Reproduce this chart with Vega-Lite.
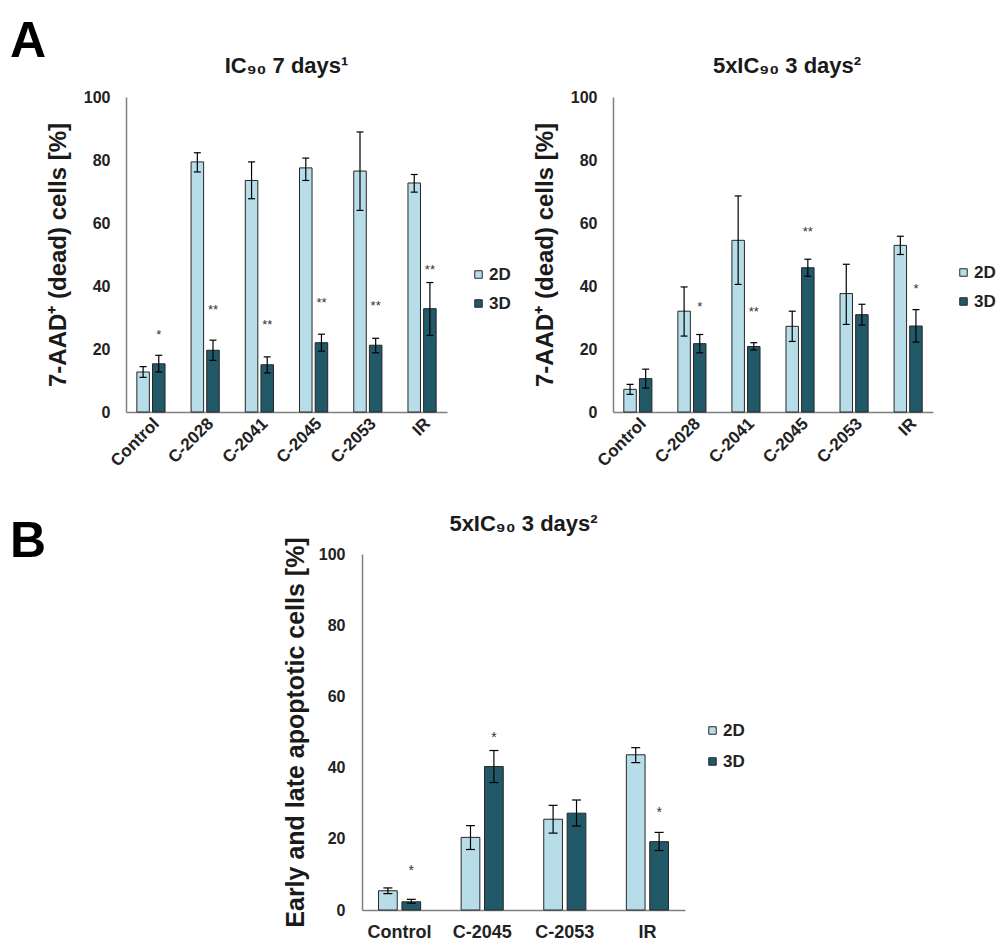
{
  "$schema": "https://vega.github.io/schema/vega-lite/v6.json",
  "padding": {"left": 10, "top": 17, "right": 0, "bottom": 0},
  "spacing": 42,
  "resolve": {"scale": {"color": "independent", "x": "independent", "y": "independent", "xOffset": "independent"}, "legend": {"color": "independent"}},
  "datasets": {
    "ic90": [
      {"treatment": "Control", "culture": "2D", "mean": 12.7, "lo": 11.0, "hi": 14.4, "sig": null, "sigY": null},
      {"treatment": "Control", "culture": "3D", "mean": 15.3, "lo": 12.7, "hi": 18.0, "sig": "*", "sigY": 25.4},
      {"treatment": "C-2028", "culture": "2D", "mean": 79.4, "lo": 76.2, "hi": 82.3, "sig": null, "sigY": null},
      {"treatment": "C-2028", "culture": "3D", "mean": 19.6, "lo": 16.4, "hi": 22.8, "sig": "**", "sigY": 33.3},
      {"treatment": "C-2041", "culture": "2D", "mean": 73.5, "lo": 67.7, "hi": 79.4, "sig": null, "sigY": null},
      {"treatment": "C-2041", "culture": "3D", "mean": 15.0, "lo": 12.4, "hi": 17.5, "sig": "**", "sigY": 28.6},
      {"treatment": "C-2045", "culture": "2D", "mean": 77.5, "lo": 73.5, "hi": 80.6, "sig": null, "sigY": null},
      {"treatment": "C-2045", "culture": "3D", "mean": 22.0, "lo": 19.3, "hi": 24.7, "sig": "**", "sigY": 35.4},
      {"treatment": "C-2053", "culture": "2D", "mean": 76.5, "lo": 64.0, "hi": 88.9, "sig": null, "sigY": null},
      {"treatment": "C-2053", "culture": "3D", "mean": 21.2, "lo": 18.8, "hi": 23.4, "sig": "**", "sigY": 34.7},
      {"treatment": "IR", "culture": "2D", "mean": 72.7, "lo": 69.8, "hi": 75.4, "sig": null, "sigY": null},
      {"treatment": "IR", "culture": "3D", "mean": 32.8, "lo": 24.3, "hi": 41.1, "sig": "**", "sigY": 46.0}
    ],
    "ic90x5": [
      {"treatment": "Control", "culture": "2D", "mean": 7.2, "lo": 5.6, "hi": 8.8, "sig": null, "sigY": null},
      {"treatment": "Control", "culture": "3D", "mean": 10.6, "lo": 7.6, "hi": 13.6, "sig": null, "sigY": null},
      {"treatment": "C-2028", "culture": "2D", "mean": 32.0, "lo": 24.1, "hi": 39.7, "sig": null, "sigY": null},
      {"treatment": "C-2028", "culture": "3D", "mean": 21.7, "lo": 18.8, "hi": 24.6, "sig": "*", "sigY": 34.4},
      {"treatment": "C-2041", "culture": "2D", "mean": 54.5, "lo": 40.5, "hi": 68.6, "sig": null, "sigY": null},
      {"treatment": "C-2041", "culture": "3D", "mean": 20.8, "lo": 19.7, "hi": 22.0, "sig": "**", "sigY": 32.8},
      {"treatment": "C-2045", "culture": "2D", "mean": 27.2, "lo": 22.4, "hi": 32.0, "sig": null, "sigY": null},
      {"treatment": "C-2045", "culture": "3D", "mean": 45.8, "lo": 43.1, "hi": 48.5, "sig": "**", "sigY": 58.2},
      {"treatment": "C-2053", "culture": "2D", "mean": 37.6, "lo": 27.8, "hi": 46.9, "sig": null, "sigY": null},
      {"treatment": "C-2053", "culture": "3D", "mean": 30.9, "lo": 27.6, "hi": 34.2, "sig": null, "sigY": null},
      {"treatment": "IR", "culture": "2D", "mean": 52.9, "lo": 50.0, "hi": 55.8, "sig": null, "sigY": null},
      {"treatment": "IR", "culture": "3D", "mean": 27.3, "lo": 22.2, "hi": 32.5, "sig": "*", "sigY": 40.0}
    ],
    "apoptosis": [
      {"treatment": "Control", "culture": "2D", "mean": 5.4, "lo": 4.6, "hi": 6.2, "sig": null, "sigY": null},
      {"treatment": "Control", "culture": "3D", "mean": 2.3, "lo": 1.9, "hi": 3.0, "sig": "*", "sigY": 11.7},
      {"treatment": "C-2045", "culture": "2D", "mean": 20.4, "lo": 17.0, "hi": 23.7, "sig": null, "sigY": null},
      {"treatment": "C-2045", "culture": "3D", "mean": 40.3, "lo": 35.8, "hi": 44.8, "sig": "*", "sigY": 49.2},
      {"treatment": "C-2053", "culture": "2D", "mean": 25.5, "lo": 21.6, "hi": 29.4, "sig": null, "sigY": null},
      {"treatment": "C-2053", "culture": "3D", "mean": 27.2, "lo": 23.6, "hi": 30.9, "sig": null, "sigY": null},
      {"treatment": "IR", "culture": "2D", "mean": 43.6, "lo": 41.4, "hi": 45.6, "sig": null, "sigY": null},
      {"treatment": "IR", "culture": "3D", "mean": 19.2, "lo": 16.7, "hi": 21.8, "sig": "*", "sigY": 28.1}
    ],
    "blank": [{"label": ""}]
  },
  "vconcat": [
    {
      "title": {"text": "A", "anchor": "start", "frame": "group", "fontSize": 50, "fontWeight": "bold", "color": "#000000", "offset": 0, "dx": -116, "dy": 12},
      "spacing": 22,
      "resolve": {"scale": {"color": "independent", "x": "independent", "y": "independent", "xOffset": "independent"}, "legend": {"color": "independent"}},
      "hconcat": [
        {
          "data": {"name": "ic90"},
          "width": 321,
          "height": 315,
          "title": {"text": "IC₉₀ 7  days¹"},
          "encoding": {
            "x": {"field": "treatment", "type": "nominal", "sort": ["Control", "C-2028", "C-2041", "C-2045", "C-2053", "IR"], "title": null, "scale": {"paddingInner": 0.48}, "axis": {"labelAngle": -45, "labelFontSize": 17, "labelPadding": 3}},
            "xOffset": {"field": "culture", "type": "nominal", "sort": ["2D", "3D"], "scale": {"paddingInner": 0.2, "paddingOuter": 0}}
          },
          "layer": [
            {
              "mark": {"type": "bar", "stroke": "#262626", "strokeWidth": 1},
              "encoding": {
                "y": {"field": "mean", "type": "quantitative", "title": "7-AAD⁺ (dead) cells [%]", "scale": {"domain": [0, 100]}, "axis": {"values": [0, 20, 40, 60, 80, 100]}},
                "color": {"field": "culture", "type": "nominal", "scale": {"domain": ["2D", "3D"], "range": ["#b7dee8", "#215968"]}, "legend": {"orient": "none", "legendX": 344, "legendY": 169, "title": null}}
              }
            },
            {"mark": {"type": "rule", "color": "#000000", "strokeWidth": 1.2}, "encoding": {"y": {"field": "lo", "type": "quantitative", "title": "7-AAD⁺ (dead) cells [%]"}, "y2": {"field": "hi"}}},
            {"mark": {"type": "tick", "color": "#000000", "size": 7, "thickness": 1.2, "opacity": 1}, "encoding": {"y": {"field": "lo", "type": "quantitative", "title": "7-AAD⁺ (dead) cells [%]"}}},
            {"mark": {"type": "tick", "color": "#000000", "size": 7, "thickness": 1.2, "opacity": 1}, "encoding": {"y": {"field": "hi", "type": "quantitative", "title": "7-AAD⁺ (dead) cells [%]"}}},
            {"transform": [{"filter": "datum.sig != null"}], "mark": {"type": "text", "fontSize": 13, "color": "#333333", "baseline": "middle", "dy": 3}, "encoding": {"y": {"field": "sigY", "type": "quantitative", "title": "7-AAD⁺ (dead) cells [%]"}, "text": {"field": "sig"}}}
          ]
        },
        {
          "data": {"name": "ic90x5"},
          "width": 320,
          "height": 315,
          "title": {"text": "5xIC₉₀ 3 days²", "dx": 14},
          "encoding": {
            "x": {"field": "treatment", "type": "nominal", "sort": ["Control", "C-2028", "C-2041", "C-2045", "C-2053", "IR"], "title": null, "scale": {"paddingInner": 0.48}, "axis": {"labelAngle": -45, "labelFontSize": 17, "labelPadding": 3}},
            "xOffset": {"field": "culture", "type": "nominal", "sort": ["2D", "3D"], "scale": {"paddingInner": 0.2, "paddingOuter": 0}}
          },
          "layer": [
            {
              "mark": {"type": "bar", "stroke": "#262626", "strokeWidth": 1},
              "encoding": {
                "y": {"field": "mean", "type": "quantitative", "title": "7-AAD⁺ (dead) cells [%]", "scale": {"domain": [0, 100]}, "axis": {"values": [0, 20, 40, 60, 80, 100]}},
                "color": {"field": "culture", "type": "nominal", "scale": {"domain": ["2D", "3D"], "range": ["#b7dee8", "#215968"]}, "legend": {"orient": "none", "legendX": 342, "legendY": 167, "title": null}}
              }
            },
            {"mark": {"type": "rule", "color": "#000000", "strokeWidth": 1.2}, "encoding": {"y": {"field": "lo", "type": "quantitative", "title": "7-AAD⁺ (dead) cells [%]"}, "y2": {"field": "hi"}}},
            {"mark": {"type": "tick", "color": "#000000", "size": 7, "thickness": 1.2, "opacity": 1}, "encoding": {"y": {"field": "lo", "type": "quantitative", "title": "7-AAD⁺ (dead) cells [%]"}}},
            {"mark": {"type": "tick", "color": "#000000", "size": 7, "thickness": 1.2, "opacity": 1}, "encoding": {"y": {"field": "hi", "type": "quantitative", "title": "7-AAD⁺ (dead) cells [%]"}}},
            {"transform": [{"filter": "datum.sig != null"}], "mark": {"type": "text", "fontSize": 13, "color": "#333333", "baseline": "middle", "dy": 3}, "encoding": {"y": {"field": "sigY", "type": "quantitative", "title": "7-AAD⁺ (dead) cells [%]"}, "text": {"field": "sig"}}}
          ]
        }
      ]
    },
    {
      "title": {"text": "B", "anchor": "start", "frame": "group", "fontSize": 50, "fontWeight": "bold", "color": "#000000", "offset": 0, "dx": -116, "dy": 54},
      "spacing": 20,
      "resolve": {"scale": {"color": "independent", "x": "independent", "y": "independent", "xOffset": "independent"}, "legend": {"color": "independent"}},
      "hconcat": [
        {
          "data": {"name": "blank"},
          "width": 137,
          "height": 356,
          "mark": {"type": "text"},
          "encoding": {"text": {"field": "label"}}
        },
        {
          "data": {"name": "apoptosis"},
          "width": 323,
          "height": 356,
          "title": {"text": "5xIC₉₀ 3 days²", "offset": 1},
          "encoding": {
            "x": {"field": "treatment", "type": "nominal", "sort": ["Control", "C-2045", "C-2053", "IR"], "title": null, "scale": {"paddingInner": 0.49}, "axis": {"labelAngle": 0, "labelFontSize": 18, "labelPadding": 13}},
            "xOffset": {"field": "culture", "type": "nominal", "sort": ["2D", "3D"], "scale": {"paddingInner": 0.2, "paddingOuter": 0}}
          },
          "layer": [
            {
              "mark": {"type": "bar", "stroke": "#262626", "strokeWidth": 1},
              "encoding": {
                "y": {"field": "mean", "type": "quantitative", "title": "Early and late apoptotic cells [%]", "scale": {"domain": [0, 100]}, "axis": {"values": [0, 20, 40, 60, 80, 100], "titlePadding": 10, "labelPadding": 17, "titleFontSize": 25}},
                "color": {"field": "culture", "type": "nominal", "scale": {"domain": ["2D", "3D"], "range": ["#b7dee8", "#215968"]}, "legend": {"orient": "none", "legendX": 342, "legendY": 168, "title": null, "rowPadding": 13}}
              }
            },
            {"mark": {"type": "rule", "color": "#000000", "strokeWidth": 1.2}, "encoding": {"y": {"field": "lo", "type": "quantitative", "title": "Early and late apoptotic cells [%]"}, "y2": {"field": "hi"}}},
            {"mark": {"type": "tick", "color": "#000000", "size": 9, "thickness": 1.2, "opacity": 1}, "encoding": {"y": {"field": "lo", "type": "quantitative", "title": "Early and late apoptotic cells [%]"}}},
            {"mark": {"type": "tick", "color": "#000000", "size": 9, "thickness": 1.2, "opacity": 1}, "encoding": {"y": {"field": "hi", "type": "quantitative", "title": "Early and late apoptotic cells [%]"}}},
            {"transform": [{"filter": "datum.sig != null"}], "mark": {"type": "text", "fontSize": 14, "color": "#333333", "baseline": "middle", "dy": 3}, "encoding": {"y": {"field": "sigY", "type": "quantitative", "title": "Early and late apoptotic cells [%]"}, "text": {"field": "sig"}}}
          ]
        }
      ]
    }
  ],
  "config": {
    "font": "Liberation Sans",
    "view": {"stroke": null},
    "axis": {"domainColor": "#7f7f7f", "domainWidth": 1.5, "ticks": false, "grid": false, "labelFont": "Liberation Sans", "labelFontWeight": "bold", "labelColor": "#222222", "titleFont": "Liberation Sans", "titleFontWeight": "bold", "titleColor": "#1a1a1a"},
    "axisY": {"labelFontSize": 16, "labelPadding": 16, "titleFontSize": 24, "titlePadding": 13},
    "legend": {"labelFont": "Liberation Sans", "labelFontSize": 17, "labelFontWeight": "bold", "labelColor": "#222222", "symbolType": "square", "symbolSize": 56, "symbolStrokeColor": "#262626", "symbolStrokeWidth": 1, "rowPadding": 11, "padding": 0, "labelOffset": 2},
    "title": {"font": "Liberation Sans", "fontSize": 22, "fontWeight": "bold", "color": "#1a1a1a", "frame": "group", "offset": 11}
  }
}
